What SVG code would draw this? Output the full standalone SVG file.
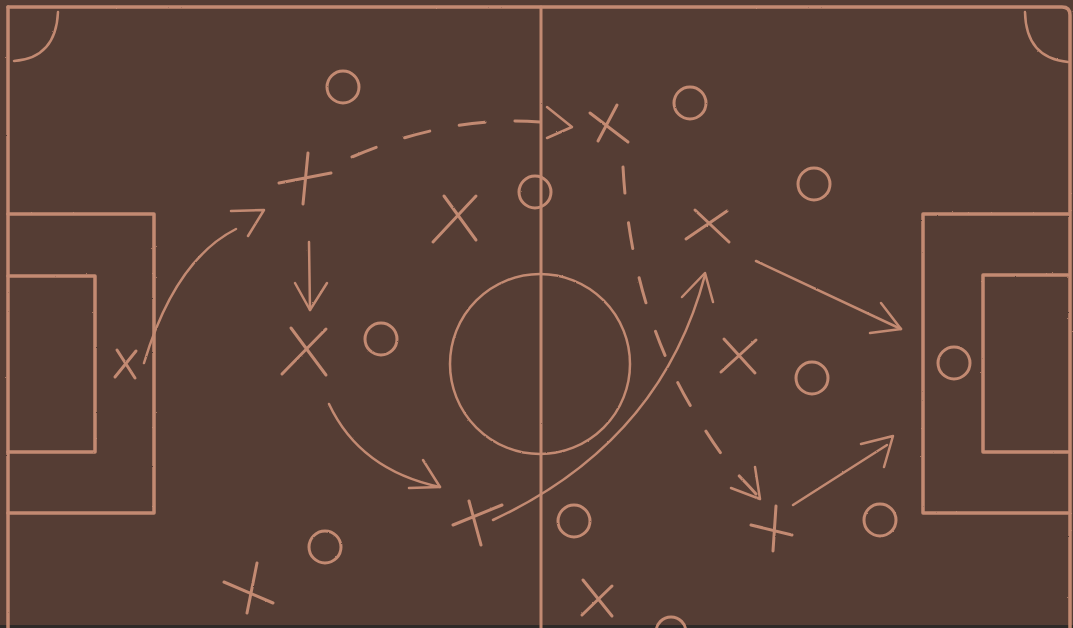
<svg xmlns="http://www.w3.org/2000/svg" width="1073" height="628" viewBox="0 0 1073 628">
<defs>
<filter id="chalk" x="-5%" y="-5%" width="110%" height="110%">
  <feTurbulence type="fractalNoise" baseFrequency="0.8" numOctaves="2" seed="3" result="n"/>
  <feDisplacementMap in="SourceGraphic" in2="n" scale="1.6" xChannelSelector="R" yChannelSelector="G"/>
</filter>
</defs>
<style>
.c{fill:none;stroke:#c38a72;stroke-linecap:round;stroke-linejoin:round}
.f{stroke-width:2.5}
.fb{stroke-width:3.5}
.p{stroke-width:3}
.a{stroke-width:2.5}
.d{stroke-width:3;stroke-dasharray:26 30}
</style>
<rect x="0" y="0" width="1073" height="628" fill="#553d34"/>
<rect x="0" y="625" width="1073" height="3" fill="#2e2a28"/>
<g filter="url(#chalk)">
<g id="field" class="c">
  <path class="fb" d="M8,7 L1062,7 Q1070,7 1070,15 L1070,628"/>
  <path class="fb" d="M8,7 L8,628"/>
  <path class="p" d="M541,7 L541,628"/>
  <path class="f" d="M58,12 Q56,58 14,61"/>
  <path class="f" d="M1025,12 Q1026,58 1068,62"/>
  <circle class="f" cx="540" cy="364" r="90"/>
  <path class="fb" d="M8,214 L154,214 L154,513 L8,513"/>
  <path class="fb" d="M8,276 L95,276 L95,452 L8,452"/>
  <path class="fb" d="M1068,214 L923,214 L923,513 L1068,513"/>
  <path class="fb" d="M1068,275 L983,275 L983,452 L1068,452"/>
</g>
<g id="connectors" class="c">
  <path class="a" d="M144,363 Q175,260 236,229"/>
  <path class="a" d="M231,211 L264,210 L248,236"/>
  <path class="d" d="M352,157 Q450,115 540,122"/>
  <path class="a" d="M547,107 L572,127 L547,138"/>
  <path class="a" d="M309,242 L310,310"/>
  <path class="a" d="M295,283 L310,310 L327,283"/>
  <path class="a" d="M329,404 Q360,470 440,487"/>
  <path class="a" d="M423,460 L440,487 L409,488"/>
  <path class="a" d="M493,520 Q661,442 705,275"/>
  <path class="a" d="M682,297 L705,273 L713,302"/>
  <path class="d" d="M623,167 C628,260 652,340 690,405 S740,475 756,494"/>
  <path class="a" d="M731,488 L760,499 L755,467"/>
  <path class="a" d="M756,261 L901,329"/>
  <path class="a" d="M881,303 L901,329 L870,333"/>
  <path class="a" d="M793,505 L887,445"/>
  <path class="a" d="M861,444 L893,436 L884,467"/>
</g>
<g id="o1" class="c p"><circle cx="343" cy="87" r="16"/></g>
<g id="o2" class="c p"><circle cx="690" cy="103" r="16"/></g>
<g id="o3" class="c p"><circle cx="535" cy="192" r="16"/></g>
<g id="o4" class="c p"><circle cx="814" cy="184" r="16"/></g>
<g id="o5" class="c p"><circle cx="381" cy="339" r="16"/></g>
<g id="o6" class="c p"><circle cx="812" cy="378" r="16"/></g>
<g id="o7" class="c p"><circle cx="954" cy="363" r="16"/></g>
<g id="o8" class="c p"><circle cx="574" cy="521" r="16"/></g>
<g id="o9" class="c p"><circle cx="880" cy="520" r="16"/></g>
<g id="o10" class="c p"><circle cx="325" cy="547" r="16"/></g>
<g id="o11" class="c p"><circle cx="671" cy="632" r="15"/></g>
<g id="x1" class="c p"><path d="M279,183 L331,173 M308,153 L303,204"/></g>
<g id="x2" class="c p"><path d="M115,377 L136,351 M117,350 L135,378"/></g>
<g id="x3" class="c p"><path d="M282,374 L326,329 M291,328 L326,375"/></g>
<g id="x4" class="c p"><path d="M433,242 L476,196 M444,196 L476,240"/></g>
<g id="x5" class="c p"><path d="M590,113 L628,142 M617,105 L598,141"/></g>
<g id="x6" class="c p"><path d="M686,239 L727,211 M695,210 L729,242"/></g>
<g id="x7" class="c p"><path d="M721,372 L756,340 M724,339 L755,373"/></g>
<g id="x8" class="c p"><path d="M453,525 L502,505 M469,501 L481,545"/></g>
<g id="x9" class="c p"><path d="M776,506 L773,551 M751,525 L792,535"/></g>
<g id="x10" class="c p"><path d="M224,582 L273,603 M257,563 L247,613"/></g>
<g id="x11" class="c p"><path d="M583,580 L612,616 M612,586 L582,615"/></g>
</g>
</svg>
